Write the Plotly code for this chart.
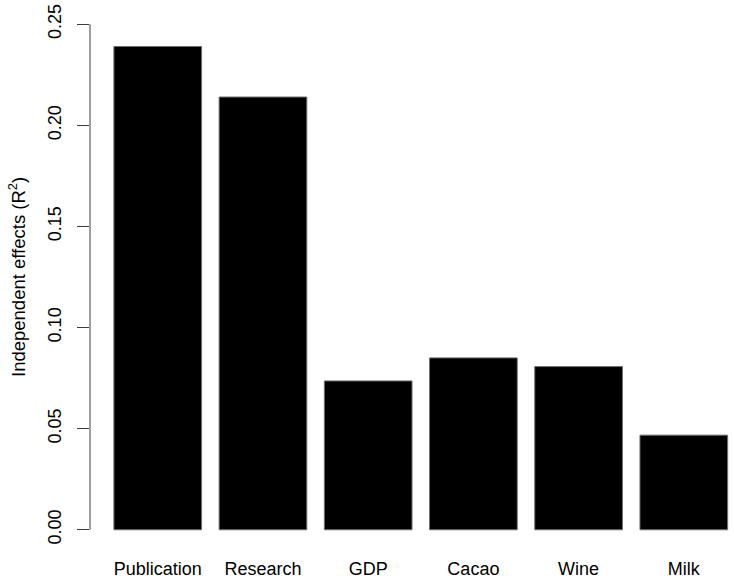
import plotly.graph_objects as go

# Independent effects (hierarchical partitioning)
predictors = ['Publication', 'Research', 'GDP', 'Cacao', 'Wine', 'Milk']
effects = [0.239, 0.214, 0.0736, 0.085, 0.0807, 0.0468]

y_ticks = [0.00, 0.05, 0.10, 0.15, 0.20, 0.25]
y_labels = ['0.00', '0.05', '0.10', '0.15', '0.20', '0.25']

font = 'Liberation Sans, Arial, Helvetica, sans-serif'

fig = go.Figure()

fig.add_trace(go.Bar(
    x=predictors,
    y=effects,
    marker=dict(color='black', line=dict(color='rgb(110,110,110)', width=1)),
    hoverinfo='x+y',
))

# R-style y axis: the line only spans the tick range
fig.add_shape(
    type='line', xref='paper', yref='y',
    x0=0, x1=0, y0=0, y1=0.25,
    line=dict(color='rgb(60,60,60)', width=1),
)

fig.add_annotation(
    text='Independent effects (R<sup>2</sup>)',
    xref='paper', yref='paper',
    x=(17 - 90) / 644, y=0.5,
    xanchor='center', yanchor='middle',
    textangle=-90, showarrow=False,
    font=dict(family=font, size=18.5, color='black'),
)

fig.update_layout(
    width=734, height=578,
    margin=dict(l=90, r=0, t=4, b=28),
    paper_bgcolor='white',
    plot_bgcolor='white',
    showlegend=False,
    bargap=1 - 1 / 1.2,
    font=dict(family=font, size=18, color='black'),
    xaxis=dict(
        range=[-0.644, 5.477],
        showline=False, showgrid=False, zeroline=False,
        ticks='outside', ticklen=2, tickcolor='rgba(0,0,0,0)',
        tickfont=dict(size=18),
        automargin=False,
    ),
    yaxis=dict(
        range=[-0.01, 0.26],
        tickvals=y_ticks, ticktext=y_labels,
        tickangle=-90,
        showline=False, showgrid=False, zeroline=False,
        ticks='outside', ticklen=12, tickcolor='rgb(60,60,60)', tickwidth=1,
        tickfont=dict(size=18),
        ticklabelstandoff=9,
        automargin=False,
    ),
)

# remove the page's default body margin so the figure sits at the top-left corner
fig.write_html("out.html", config={'displayModeBar': False},
               post_script="document.body.style.margin='0';")
